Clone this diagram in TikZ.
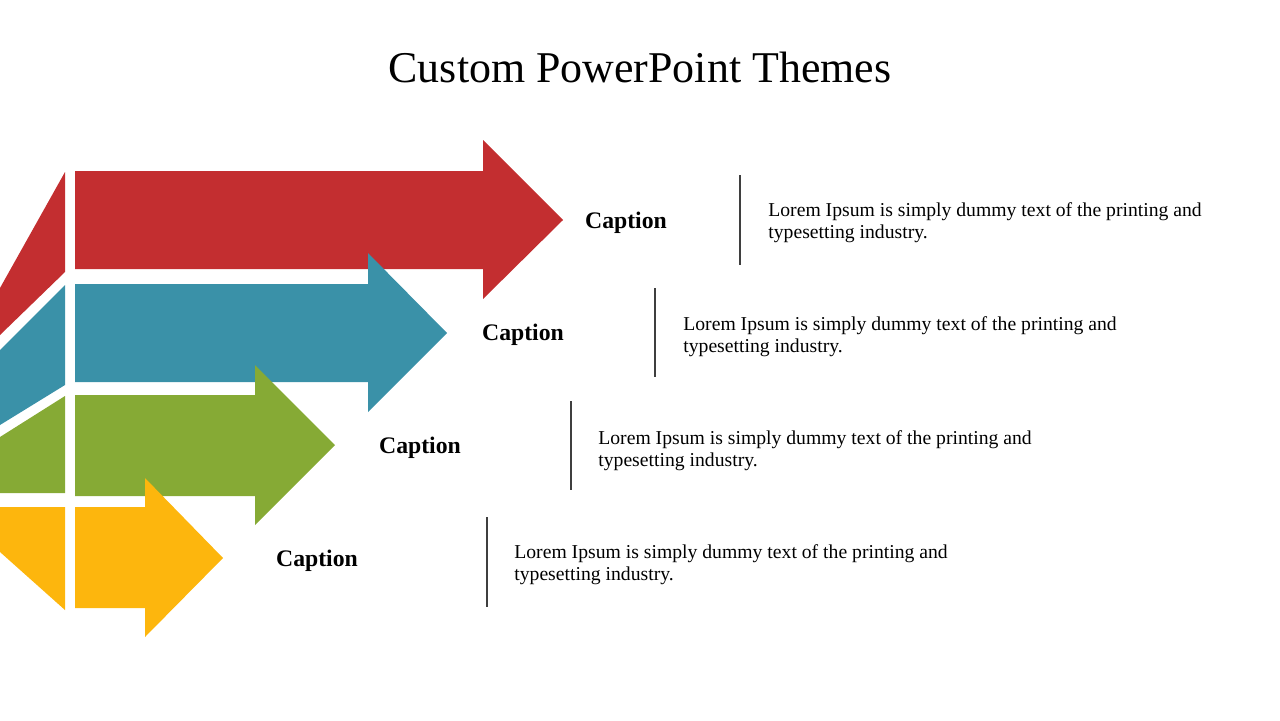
\documentclass[tikz,border=0pt]{standalone}
\usepackage{fontspec}
\setmainfont{Liberation Serif}
\usepackage{xcolor}
\usetikzlibrary{positioning}

\definecolor{arrowred}{HTML}{C32E30}
\definecolor{arrowblue}{HTML}{3A91A8}
\definecolor{arrowgreen}{HTML}{86AA35}
\definecolor{arrowyellow}{HTML}{FDB60D}
\definecolor{sepgray}{HTML}{3F3F3F}

\begin{document}
\begin{tikzpicture}[
  x=0.02cm, y=-0.02cm,
  caption/.style={
    font=\fontsize{13.5}{16}\selectfont\bfseries,
    inner sep=0pt
  },
  desc/.style={
    anchor=west,
    align=left,
    inner sep=0pt,
    font=\fontsize{11.2}{12.6}\selectfont
  },
  sepline/.style={
    draw=sepgray,
    line width=1.2pt
  }
]
\useasboundingbox (0,0) rectangle (1280,720);

\node[font=\fontsize{25}{30}\selectfont, inner sep=0pt] (title) at (640,67)
{Custom PowerPoint Themes};

% arrows
\fill[arrowred] (75,171) -- (483,171) -- (483,140) -- (563,220)
  -- (483,299) -- (483,269) -- (75,269) -- cycle;
\fill[arrowred] (65,172) -- (65,272) -- (0,335) -- (0,288) -- cycle;

\fill[arrowblue] (75,284) -- (368,284) -- (368,253) -- (447,333)
  -- (368,412) -- (368,382) -- (75,382) -- cycle;
\fill[arrowblue] (65,285) -- (65,385) -- (0,425) -- (0,350) -- cycle;

\fill[arrowgreen] (75,395) -- (255,395) -- (255,365) -- (335,445)
  -- (255,525) -- (255,496) -- (75,496) -- cycle;
\fill[arrowgreen] (0,437) -- (65,396) -- (65,493) -- (0,493) -- cycle;

\fill[arrowyellow] (75,507) -- (145,507) -- (145,478) -- (223,558)
  -- (145,637) -- (145,608) -- (75,608) -- cycle;
\fill[arrowyellow] (0,507) -- (65,507) -- (65,610) -- (0,552) -- cycle;

% captions
\node[caption] (cap1) at (626,223) {Caption};
\node[caption] (cap2) at (523,335) {Caption};
\node[caption] (cap3) at (420,448) {Caption};
\node[caption] (cap4) at (317,561) {Caption};

% separators
\coordinate (s1a) at (740,175); \coordinate (s1b) at (740,265);
\coordinate (s2a) at (655,288); \coordinate (s2b) at (655,377);
\coordinate (s3a) at (571,401); \coordinate (s3b) at (571,490);
\coordinate (s4a) at (487,517); \coordinate (s4b) at (487,607);
\draw[sepline] (s1a) -- (s1b);
\draw[sepline] (s2a) -- (s2b);
\draw[sepline] (s3a) -- (s3b);
\draw[sepline] (s4a) -- (s4b);

% texts
\node[desc] (desc1) at (768,223)
{Lorem Ipsum is simply dummy text of the printing and\\typesetting industry.};
\node[desc] (desc2) at (683,337)
{Lorem Ipsum is simply dummy text of the printing and\\typesetting industry.};
\node[desc] (desc3) at (598,451)
{Lorem Ipsum is simply dummy text of the printing and\\typesetting industry.};
\node[desc] (desc4) at (514,565)
{Lorem Ipsum is simply dummy text of the printing and\\typesetting industry.};

\end{tikzpicture}
\end{document}
